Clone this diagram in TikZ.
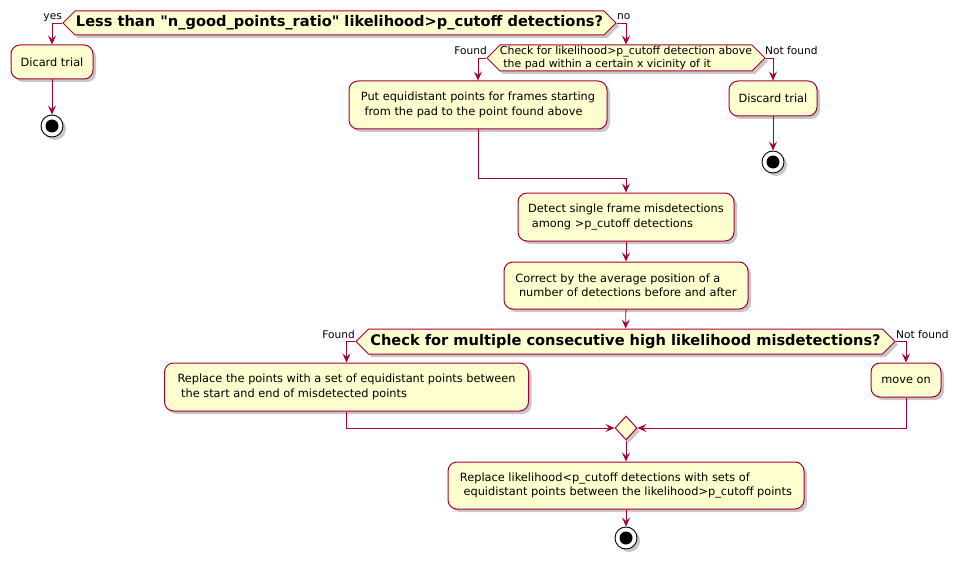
\documentclass[tikz,border=0pt]{standalone}
\usepackage{fontspec}
\setmainfont{DejaVu Sans}
\usetikzlibrary{shapes.symbols,shapes.geometric,shadows,arrows.meta}

\definecolor{umlred}{HTML}{A80036}
\definecolor{umlfill}{HTML}{FEFECE}

\tikzset{
  umlshadow/.style={drop shadow={shadow xshift=3pt,shadow yshift=-3pt,fill=black,opacity=0.22}},
  act/.style={draw=umlred, fill=umlfill, line width=1pt, rounded corners=9pt,
    align=left, inner sep=0pt, font=\fontsize{11.35}{14.5}\selectfont, umlshadow},
  decide/.style={signal, signal to=east and west, signal pointer angle=90,
    draw=umlred, fill=umlfill, line width=1pt, inner sep=0pt, align=left, umlshadow},
  merge/.style={diamond, draw=umlred, fill=umlfill, line width=1pt, inner sep=0pt,
    minimum width=22pt, minimum height=24pt, umlshadow},
  stopdot/.style={circle, draw=black, fill=white, line width=0.9pt, inner sep=0pt,
    minimum size=22pt, umlshadow,
    path picture={\fill[black] (path picture bounding box.center) circle (6.5pt);}},
  flow/.style={draw=umlred, line width=0.9pt, -{Stealth[length=9pt,width=8pt,inset=3.5pt]}},
  lbl/.style={font=\fontsize{10.6}{12}\selectfont, inner sep=0pt}
}

\begin{document}
\begin{tikzpicture}[x=1pt,y=-1pt]
\useasboundingbox (0,0) rectangle (961,567);

% first decision
\node[decide, minimum width=553pt, minimum height=24pt, font=\bfseries\fontsize{14.6}{17}\selectfont]
  (goodratio) at (339.5,23) {Less than \textquotedbl n\_good\_points\_ratio\textquotedbl\ likelihood>p\_cutoff detections?};
\node[lbl, anchor=base east] (yes) at (62,20) {yes};
\node[lbl, anchor=base west] (no) at (617,20) {no};

% yes branch
\node[act, minimum width=82pt, minimum height=34pt] (dicard) at (52,62) {Dicard trial};
\node[stopdot] (stopa) at (52,126) {};

% no branch
\node[decide, minimum width=276pt, minimum height=26pt, font=\fontsize{10.9}{12.5}\selectfont]
  (abovepad) at (626,58) {Check for likelihood>p\_cutoff detection above\\\ the pad within a certain x vicinity of it};
\node[lbl, anchor=base east] (founda) at (487,55) {Found};
\node[lbl, anchor=base west] (notfounda) at (765,55) {Not found};

\node[act, minimum width=258pt, minimum height=48pt] (putpoints) at (478,105)
  {Put equidistant points for frames starting\\\ from the pad to the point found above};
\node[act, minimum width=88pt, minimum height=35pt] (discard) at (773,98.5) {Discard trial};
\node[stopdot] (stopb) at (773,162) {};

% main line
\node[act, minimum width=216pt, minimum height=48pt] (detect) at (626,217)
  {Detect single frame misdetections\\\ among >p\_cutoff detections};
\node[act, minimum width=244pt, minimum height=47pt] (correct) at (626,285.5)
  {Correct by the average position of a\\\ number of detections before and after};

% second decision
\node[decide, minimum width=539pt, minimum height=25pt, font=\bfseries\fontsize{14.6}{17}\selectfont]
  (multiple) at (625.5,341.5) {Check for multiple consecutive high likelihood misdetections?};
\node[lbl, anchor=base east] (foundb) at (355,338) {Found};
\node[lbl, anchor=base west] (notfoundb) at (896,338) {Not found};

\node[act, minimum width=364pt, minimum height=48pt] (replace) at (346.5,387)
  {Replace the points with a set of equidistant points between\\\ the start and end of misdetected points};
\node[act, minimum width=70pt, minimum height=34pt] (moveon) at (906,380) {move on};

\node[merge] (join) at (626,428) {};

\node[act, minimum width=356pt, minimum height=47pt] (fill) at (626,485.5)
  {Replace likelihood<p\_cutoff detections with sets of\\\ equidistant points between the likelihood>p\_cutoff points};
\node[stopdot] (stopc) at (626,538) {};

% connectors
\draw[flow] (goodratio.west) -| (dicard);
\draw[flow] (dicard) -- (stopa);
\draw[flow] (goodratio.east) -| (abovepad);
\draw[flow] (abovepad.west) -| (putpoints);
\draw[flow] (abovepad.east) -| (discard);
\draw[flow] (discard) -- (stopb);
\draw[flow] (putpoints.south) -- ++(0,49) -| (detect);
\draw[flow] (detect) -- (correct);
\draw[flow] (correct) -- (multiple);
\draw[flow] (multiple.west) -| (replace);
\draw[flow] (multiple.east) -| (moveon);
\draw[flow] (replace.south) |- (join.west);
\draw[flow] (moveon.south) |- (join.east);
\draw[flow] (join) -- (fill);
\draw[flow] (fill) -- (stopc);
\end{tikzpicture}
\end{document}
